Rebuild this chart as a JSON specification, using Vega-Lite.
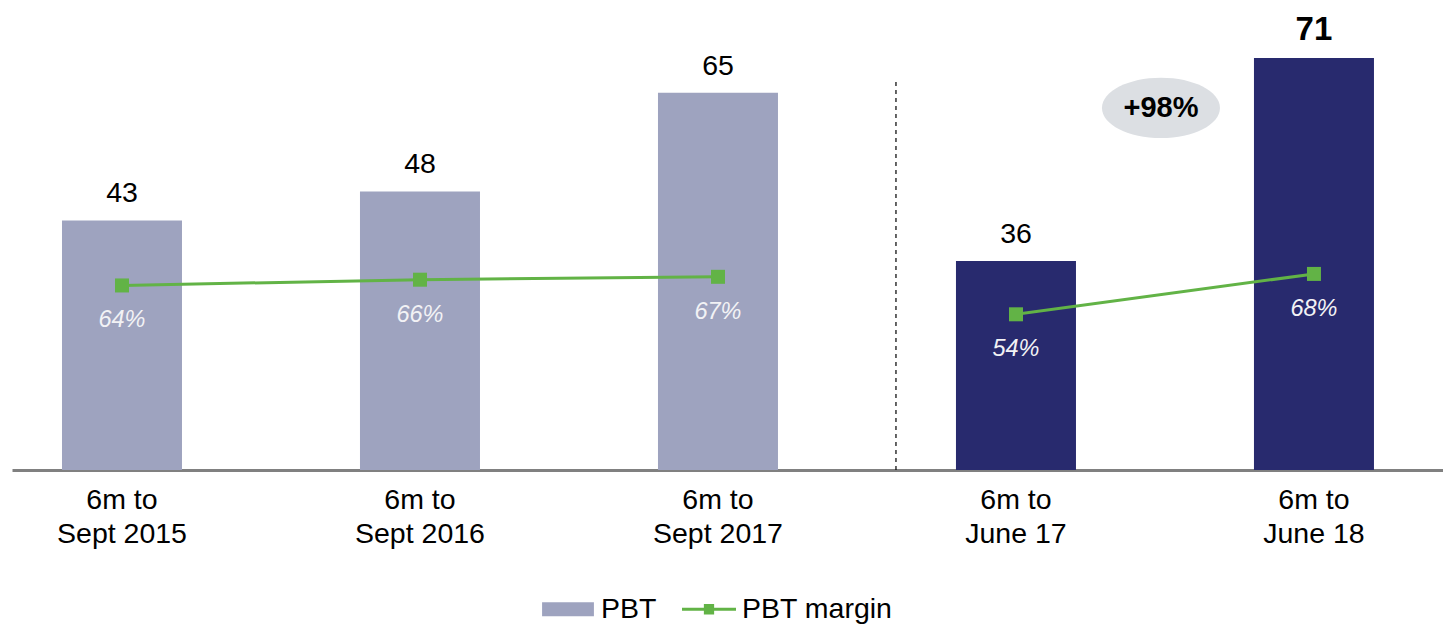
{
  "$schema": "https://vega.github.io/schema/vega-lite/v6.json",
  "autosize": {"type": "none"},
  "padding": {"left": 12, "top": 0, "right": 0, "bottom": 155},
  "width": 1431,
  "height": 470,
  "config": {"view": {"stroke": null}, "font": "Liberation Sans"},
  "datasets": {
    "main": [
      {"period": "6m to|Sept 2015", "pbt": 43, "margin": 0.64, "grp": "a"},
      {"period": "6m to|Sept 2016", "pbt": 48, "margin": 0.66, "grp": "a"},
      {"period": "6m to|Sept 2017", "pbt": 65, "margin": 0.67, "grp": "a"},
      {"period": "6m to|June 17", "pbt": 36, "margin": 0.54, "grp": "b"},
      {"period": "6m to|June 18", "pbt": 71, "margin": 0.68, "grp": "b"}
    ],
    "divider": [{"period": "6m to|June 17", "base": 0, "top": 67.2}],
    "note": [{"period": "6m to|June 18", "pos": 62.4, "label": "+98%"}]
  },
  "data": {"name": "main"},
  "encoding": {
    "x": {
      "field": "period", "type": "nominal", "sort": null, "title": null,
      "scale": {"paddingInner": 0.5973, "paddingOuter": 0.1997, "align": 0.42},
      "axis": {
        "labelExpr": "split(datum.label, '|')",
        "labelAngle": 0, "labelFontSize": 28.5, "labelColor": "#000000",
        "labelLineHeight": 34, "labelPadding": 15, "labelFont": "Liberation Sans",
        "ticks": false, "domainColor": "#808080", "domainWidth": 3, "grid": false
      }
    }
  },
  "layer": [
    {
      "transform": [{"filter": "datum.grp === 'a'"}],
      "mark": {"type": "bar"},
      "encoding": {
        "y": {"field": "pbt", "type": "quantitative", "scale": {"domain": [0, 81]}, "axis": null},
        "color": {
          "datum": "PBT",
          "type": "nominal",
          "scale": {"domain": ["PBT", "PBT margin"], "range": ["#9EA3BF", "#62B346"]},
          "legend": {
            "title": null, "orient": "none", "legendX": 529, "legendY": 582,
            "direction": "horizontal", "labelFontSize": 28.5, "labelColor": "#000000",
            "labelFont": "Liberation Sans", "symbolSize": 2916, "columnPadding": 25, "labelOffset": 6,
            "encode": {
              "symbols": {
                "update": {
                  "shape": {"signal": "datum.value === 'PBT' ? 'M-0.96,-0.26H0.96V0.26H-0.96Z' : 'M-1,-0.055H1V0.055H-1Z M-0.19,-0.19H0.19V0.19H-0.19Z'"},
                  "size": {"value": 2916},
                  "fill": {"signal": "datum.value === 'PBT' ? '#9EA3BF' : '#62B346'"},
                  "stroke": {"value": "transparent"},
                  "strokeWidth": {"value": 0},
                  "opacity": {"value": 1},
                  "fillOpacity": {"value": 1}
                }
              }
            }
          }
        }
      }
    },
    {
      "transform": [{"filter": "datum.grp === 'b'"}],
      "mark": {"type": "bar", "color": "#282A6E"},
      "encoding": {
        "y": {"field": "pbt", "type": "quantitative", "scale": {"domain": [0, 81]}, "axis": null}
      }
    },
    {
      "transform": [{"filter": "datum.grp !== 'b' || datum.pbt < 50"}],
      "mark": {"type": "text", "baseline": "alphabetic", "dy": -18, "fontSize": 28.5, "color": "#000000"},
      "encoding": {
        "y": {"field": "pbt", "type": "quantitative", "scale": {"domain": [0, 81]}, "axis": null},
        "text": {"field": "pbt", "type": "quantitative"}
      }
    },
    {
      "transform": [{"filter": "datum.grp === 'b' && datum.pbt > 50"}],
      "mark": {"type": "text", "baseline": "alphabetic", "dy": -18, "fontSize": 33, "fontWeight": "bold", "color": "#000000"},
      "encoding": {
        "y": {"field": "pbt", "type": "quantitative", "scale": {"domain": [0, 81]}, "axis": null},
        "text": {"field": "pbt", "type": "quantitative"}
      }
    },
    {
      "mark": {"type": "line", "strokeWidth": 3},
      "encoding": {
        "y": {"field": "margin", "type": "quantitative", "scale": {"domain": [0, 1.63]}, "axis": null},
        "detail": {"field": "grp", "type": "nominal"},
        "color": {"datum": "PBT margin", "type": "nominal"}
      }
    },
    {
      "mark": {"type": "point", "shape": "square", "filled": true, "size": 196, "opacity": 1},
      "encoding": {
        "y": {"field": "margin", "type": "quantitative", "scale": {"domain": [0, 1.63]}, "axis": null},
        "color": {"datum": "PBT margin", "type": "nominal"}
      }
    },
    {
      "mark": {"type": "text", "baseline": "alphabetic", "dy": 42, "fontSize": 23.5, "fontStyle": "italic", "color": "#F2F2F5"},
      "encoding": {
        "y": {"field": "margin", "type": "quantitative", "scale": {"domain": [0, 1.63]}, "axis": null},
        "text": {"field": "margin", "type": "quantitative", "format": ".0%"}
      }
    },
    {
      "data": {"name": "divider"},
      "mark": {"type": "rule", "color": "#000000", "strokeWidth": 1.2, "strokeDash": [4, 4]},
      "encoding": {
        "x": {"field": "period", "type": "nominal", "bandPosition": -0.5},
        "y": {"field": "base", "type": "quantitative", "scale": {"domain": [0, 81]}, "axis": null},
        "y2": {"field": "top"}
      }
    },
    {
      "data": {"name": "note"},
      "mark": {"type": "point", "shape": "M-1,0A1,0.51,0,1,0,1,0A1,0.51,0,1,0,-1,0Z", "filled": true, "size": 13924, "color": "#DCDFE3", "opacity": 1},
      "encoding": {
        "x": {"field": "period", "type": "nominal", "bandPosition": -0.775},
        "y": {"field": "pos", "type": "quantitative", "scale": {"domain": [0, 81]}, "axis": null}
      }
    },
    {
      "data": {"name": "note"},
      "mark": {"type": "text", "baseline": "middle", "fontSize": 29, "fontWeight": "bold", "color": "#000000"},
      "encoding": {
        "x": {"field": "period", "type": "nominal", "bandPosition": -0.775},
        "y": {"field": "pos", "type": "quantitative", "scale": {"domain": [0, 81]}, "axis": null},
        "text": {"field": "label"}
      }
    }
  ],
  "resolve": {"scale": {"y": "independent"}}
}
